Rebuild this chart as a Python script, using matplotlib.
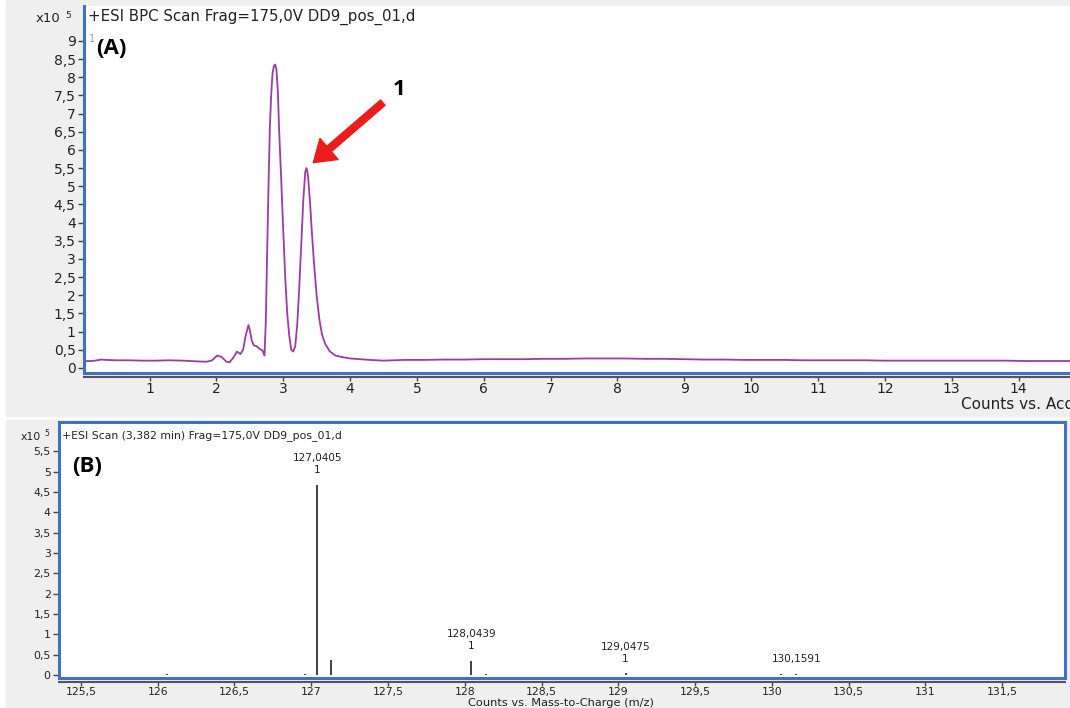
import numpy as np
import matplotlib.pyplot as plt
from matplotlib.patches import Rectangle
from matplotlib.ticker import FuncFormatter

# --- chromatogram (BPC), counts x10^5 vs. acquisition time (min) ---
bpc_time = [0.03, 0.15, 0.28, 0.35, 0.5, 0.7, 0.9, 1.1, 1.3, 1.5, 1.6, 1.7,
            1.85, 1.93, 2.01, 2.08, 2.15, 2.2, 2.26, 2.31, 2.36, 2.4, 2.44,
            2.48, 2.5, 2.53, 2.56, 2.6, 2.65, 2.69, 2.72, 2.74, 2.76, 2.78,
            2.8, 2.82, 2.84, 2.86, 2.88, 2.9, 2.92, 2.94, 2.97, 3.0, 3.03,
            3.06, 3.09, 3.12, 3.15, 3.18, 3.21, 3.24, 3.27, 3.3, 3.33, 3.35,
            3.37, 3.4, 3.43, 3.46, 3.5, 3.54, 3.58, 3.63, 3.7, 3.78, 3.88,
            4.0, 4.15, 4.3, 4.5, 4.8, 5.1, 5.4, 5.7, 6.0, 6.3, 6.6, 6.9, 7.2,
            7.5, 7.8, 8.1, 8.4, 8.7, 9.0, 9.3, 9.6, 9.9, 10.2, 10.5, 10.8,
            11.1, 11.4, 11.7, 12.0, 12.3, 12.6, 12.9, 13.2, 13.5, 13.8, 14.1,
            14.4, 14.77]
bpc_counts = [0.19, 0.19, 0.23, 0.22, 0.21, 0.21, 0.20, 0.20, 0.21, 0.20,
              0.19, 0.18, 0.17, 0.20, 0.34, 0.30, 0.17, 0.16, 0.30, 0.45,
              0.38, 0.50, 0.90, 1.18, 1.05, 0.75, 0.62, 0.60, 0.52, 0.48,
              0.34, 1.3, 3.2, 5.0, 6.6, 7.5, 8.1, 8.3, 8.35, 8.2, 7.6, 6.5,
              5.2, 3.8, 2.5, 1.5, 0.9, 0.50, 0.45, 0.60, 1.2, 2.2, 3.4, 4.6,
              5.4, 5.5, 5.3, 4.6, 3.7, 2.9, 2.0, 1.35, 0.92, 0.65, 0.45, 0.34,
              0.30, 0.26, 0.24, 0.22, 0.20, 0.22, 0.22, 0.23, 0.23, 0.24,
              0.24, 0.24, 0.25, 0.25, 0.26, 0.26, 0.26, 0.25, 0.25, 0.24,
              0.23, 0.23, 0.22, 0.22, 0.22, 0.21, 0.21, 0.21, 0.21, 0.20,
              0.20, 0.20, 0.20, 0.20, 0.20, 0.20, 0.19, 0.19, 0.19]

# --- mass spectrum at 3,382 min, counts x10^5 vs. m/z ---
ms_mz = [126.06, 126.96, 127.0405, 127.13, 128.0439, 128.14, 129.0475,
         130.06, 130.1591]
ms_counts = [0.03, 0.03, 4.68, 0.37, 0.35, 0.03, 0.04, 0.03, 0.03]
ms_labels = ["", "", "127,0405\n1", "", "128,0439\n1", "", "129,0475\n1",
             "", "130,1591"]

BLUE = '#3f72c6'
PANEL = '#efefef'
PURPLE = '#9c3aa8'
TXT = '#222222'
FONT = 'DejaVu Sans'


def comma(v, pos):
    return f'{v:g}'.replace('.', ',')


def style_axes(ax, tick_size):
    for s in ['top', 'right']:
        ax.spines[s].set_visible(False)
    ax.spines['left'].set_color(BLUE)
    ax.spines['left'].set_linewidth(2.2)
    ax.spines['bottom'].set_position(('outward', 3))
    ax.spines['bottom'].set_color('#555555')
    ax.spines['bottom'].set_linewidth(1.5)
    ax.plot([0, 1], [0, 0], transform=ax.transAxes, color=BLUE, lw=2.2,
            clip_on=False, solid_capstyle='butt')
    ax.tick_params(axis='both', direction='out', length=4, width=1,
                   color='#444444', labelcolor=TXT, labelsize=tick_size,
                   pad=2)
    ax.tick_params(axis='x', length=3, pad=0.5)
    ax.xaxis.set_major_formatter(FuncFormatter(comma))
    ax.yaxis.set_major_formatter(FuncFormatter(comma))
    for lab in ax.get_xticklabels() + ax.get_yticklabels():
        lab.set_fontfamily(FONT)


fig = plt.figure(figsize=(10.7, 7.08), dpi=100)
fig.patch.set_facecolor('white')
W, H = 1070, 708

# grey panel backgrounds
fig.patches.append(Rectangle((6 / W, (H - 416) / H), 1, 416 / H,
                             transform=fig.transFigure, color=PANEL, zorder=-5))
fig.patches.append(Rectangle((6 / W, 0), 1, (H - 420) / H,
                             transform=fig.transFigure, color=PANEL, zorder=-5))

# --- (A) chromatogram ---
axA = fig.add_axes([84 / W, (H - 373) / H, (W - 84) / W, 367 / H])
axA.set_facecolor('white')
axA.plot(bpc_time, bpc_counts, color=PURPLE, lw=1.3)
axA.set_xlim(0.02, 14.77)
axA.set_ylim(-0.14, 9.96)
axA.set_xticks(range(1, 15))
axA.set_yticks(np.arange(0, 9.01, 0.5))
style_axes(axA, 10)

axA.annotate('', xy=(3.45, 5.65), xytext=(4.49, 7.3),
             arrowprops=dict(facecolor='#ec1c1c', edgecolor='#ec1c1c',
                             width=5, headwidth=20, headlength=15, shrink=0))
axA.text(4.73, 7.65, '1', fontsize=16, fontweight='bold', color='black',
         family='Open Sans', ha='center', va='center')

fig.text(88 / W, 1 - 17 / H, '+ESI BPC Scan Frag=175,0V DD9_pos_01,d',
         fontsize=10.8, family=FONT, color=TXT, va='center', ha='left')
fig.text(60 / W, 1 - 18 / H, 'x10', fontsize=9.5, family=FONT, color=TXT,
         va='center', ha='right')
fig.text(65 / W, 1 - 15 / H, '5', fontsize=6.5, family=FONT, color=TXT,
         va='center', ha='left')
fig.text(89 / W, 1 - 39 / H, '1', fontsize=7, family=FONT, color='#999999',
         va='center', ha='left')
fig.text(96 / W, 1 - 48 / H, '(A)', fontsize=16, fontweight='bold',
         family='Open Sans', color='black', va='center', ha='left')
fig.text(961 / W, 1 - 405 / H, 'Counts vs. Acquisition Time (min)',
         fontsize=11, family=FONT, color=TXT, va='center', ha='left')

# --- (B) mass spectrum ---
axB = fig.add_axes([59 / W, (H - 678) / H, 1006 / W, 256 / H])
axB.set_facecolor('white')
axB.vlines(ms_mz, 0, ms_counts, color='#333333', lw=1.3)
for mz, c, lab in zip(ms_mz, ms_counts, ms_labels):
    if lab:
        axB.annotate(lab, xy=(mz, c), xytext=(0, 7), textcoords='offset points',
                     ha='center', va='bottom', fontsize=7.5, family=FONT,
                     color=TXT, linespacing=1.25)
axB.set_xlim(125.357, 131.91)
axB.set_ylim(-0.074, 6.22)
axB.set_xticks(np.arange(125.5, 131.51, 0.5))
axB.set_yticks(np.arange(0, 5.51, 0.5))
style_axes(axB, 7.8)
for s in ['top', 'right']:
    axB.spines[s].set_visible(True)
    axB.spines[s].set_color(BLUE)
    axB.spines[s].set_linewidth(2.2)

fig.text(62 / W, 1 - 436 / H, '+ESI Scan (3,382 min) Frag=175,0V DD9_pos_01,d',
         fontsize=7.8, family=FONT, color=TXT, va='center', ha='left')
fig.text(41 / W, 1 - 437 / H, 'x10', fontsize=7.8, family=FONT, color=TXT,
         va='center', ha='right')
fig.text(44 / W, 1 - 434 / H, '5', fontsize=5.5, family=FONT, color=TXT,
         va='center', ha='left')
fig.text(72 / W, 1 - 467 / H, '(B)', fontsize=16, fontweight='bold',
         family='Open Sans', color='black', va='center', ha='left')
fig.text(468 / W, 1 - 703 / H, 'Counts vs. Mass-to-Charge (m/z)',
         fontsize=8.2, family=FONT, color=TXT, va='center', ha='left')

fig.savefig('out.png', dpi=100)
